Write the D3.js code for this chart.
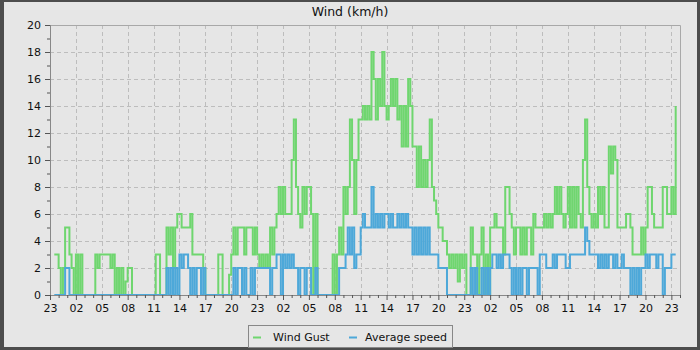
<!DOCTYPE html>
<html><head><meta charset="utf-8">
<script src="https://cdn.jsdelivr.net/npm/d3@7"></script>
<style>body{margin:0;background:#4d4d4d}svg{display:block}</style>
</head><body><svg id="c" width="700" height="350"></svg>
<script>
const title = "Wind (km/h)";
const xTickLabels = ["23","02","05","08","11","14","17","20","23","02","05","08","11","14","17","20","23","02","05","08","11","14","17","20","23"];
const yTickValues = [0,2,4,6,8,10,12,14,16,18,20];
const seriesNames = ["Wind Gust","Average speed"];
const seriesColors = ["#6fd66f","#4da8d9"];
const samplesPerHour = 4;
// wind gust, 15-minute samples starting at 23:00
const gust = [
null,null,3,3, 2,0,2,5, 5,3,2,0, 3,0,3,0, 0,0,0,0, 0,3,2,3, 3,3,3,3, 2,3,0,2,
0,2,0,1, 2,2,0,0, 0,0,0,0, 0,0,0,0, 0,3,3,0, 0,0,5,3, 5,2,5,6, 6,5,5,5,
5,6,3,3, 3,3,3,2, 0,0,0,0, 0,0,3,3, 0,0,0,1.5, 3,5,3,5, 5,5,3,5, 5,5,3,5,
3,2,3,2, 3,2,5,3, 5,6,8,6, 8,6,6,6, 10,13,8,6, 5,8,6,8, 8,6,0,6, 0,0,0,0,
0,0,0,3, 0,3,5,3, 8,6,8,13, 10,6,10,13, 13,14,13,14, 13,18,16,13, 16,14,18,14, 13,14,16,14,
16,13,14,11, 14,11,16,14, 11,11,8,11, 8,10,8,10, 13,8,7,6, 5,5,4,4, 3,2,3,2, 3,1,3,2,
3,0,0,5, 3,3,0,3, 5,0,3,0, 5,5,6,5, 5,5,3,8, 8,6,5,3, 5,5,3,5, 3,5,5,3,
6,5,5,5, 5,6,5,6, 5,6,8,6, 8,6,5,6, 8,5,8,5, 8,6,5,10, 13,8,6,5, 6,5,8,6,
8,5,5,11, 9,11,10,5, 5,5,5,6, 6,5,3,3, 3,3,5,3, 5,8,8,6, 5,5,5,5, 8,8,6,6,
8,6,14
];
// average speed, 15-minute samples starting at 23:00
const avg = [
null,null,0,0, 0,0,0,2, 2,0,0,0, 0,0,0,0, 0,0,0,0, 0,0,0,0, 0,0,0,0, 0,0,0,0,
0,0,0,0, 0,0,0,0, 0,0,0,0, 0,0,0,0, 0,0,0,0, 0,0,2,0, 2,0,2,0, 3,2,3,3,
2,0,2,0, 2,2,0,2, 0,0,0,0, 0,0,0,0, 0,0,0,0, 0,2,0,2, 2,0,2,0, 0,2,0,2,
2,2,2,2, 2,2,0,2, 2,3,3,0, 3,2,3,2, 3,2,2,0, 2,2,0,2, 2,0,0,2, 0,0,0,0,
0,0,0,0, 0,0,2,2, 2,3,5,3, 5,2,3,3, 5,6,5,5, 5,8,5,6, 5,6,5,6, 6,5,6,5,
5,6,5,6, 5,6,5,5, 3,5,3,5, 3,5,3,5, 3,3,3,3, 2,2,2,2, 0,0,0,0, 0,0,0,0,
0,0,0,2, 0,2,0,0, 2,0,2,0, 2,3,3,2, 3,2,3,3, 3,2,0,2, 0,2,0,2, 2,0,2,2,
2,2,0,3, 3,3,2,2, 2,3,2,3, 3,3,3,2, 2,3,3,3, 3,3,3,3, 5,4,3,3, 3,3,2,3,
2,3,2,3, 3,2,3,2, 2,3,2,2, 2,0,2,0, 2,0,2,2, 3,2,3,3, 3,2,3,3, 0,2,2,2,
3,3,3
];

const svg = d3.select("#c");
const W = 700, H = 350;
const bg = "#e6e6e6";
svg.append("rect").attr("x",0).attr("y",0).attr("width",W).attr("height",H).attr("fill","#4d4d4d");
svg.append("rect").attr("x",4).attr("y",2).attr("width",W-7).attr("height",H-5).attr("fill",bg);

const plot = {l:50, r:680, t:25, b:295};
const totalHours = (xTickLabels.length-1)*3 + 1;
const x = d3.scaleLinear().domain([0,totalHours]).range([plot.l, plot.r]);
const y = d3.scaleLinear().domain([0,20]).range([plot.b, plot.t]);

// grid
const grid = svg.append("g").attr("stroke","#bdbdbd").attr("stroke-width",1).attr("stroke-dasharray","4,3").attr("fill","none");
yTickValues.filter(v=>v>0 && v<20).forEach(v=>{
  grid.append("line").attr("x1",plot.l).attr("x2",plot.r).attr("y1",Math.round(y(v))+0.5).attr("y2",Math.round(y(v))+0.5);
});
xTickLabels.forEach((l,i)=>{ if(i===0) return;
  const xx = Math.round(x(i*3))+0.5;
  grid.append("line").attr("x1",xx).attr("x2",xx).attr("y1",plot.t).attr("y2",plot.b);
});
// plot frame top/right
svg.append("path").attr("d",`M${plot.l},${plot.t+0.5}H${plot.r+0.5}V${plot.b}`).attr("stroke","#a8a8a8").attr("fill","none");

// series
const toPts = arr => arr.map((v,i)=>({h:i/samplesPerHour, v}));
const line = d3.line().defined(d=>d.v!=null).x(d=>x(d.h)).y(d=>y(d.v)).curve(d3.curveStepAfter);
[gust, avg].forEach((s,k)=>{
  svg.append("path").datum(toPts(s)).attr("d",line).attr("fill","none")
    .attr("stroke",seriesColors[k]).attr("stroke-width",2).attr("stroke-linejoin","miter");
});

// axes
const fontFam = "DejaVu Sans, sans-serif";
const xAxis = d3.axisBottom(x)
  .tickValues(xTickLabels.map((l,i)=>i*3))
  .tickFormat((d,i)=>xTickLabels[i]).tickSize(5).tickPadding(4);
const gx = svg.append("g").attr("transform",`translate(0,${plot.b})`).call(xAxis);
const xMinor = d3.axisBottom(x).tickValues(d3.range(0,totalHours+1).filter(h=>h%3!==0)).tickFormat("").tickSize(3);
const gxm = svg.append("g").attr("transform",`translate(0,${plot.b})`).call(xMinor);
gxm.select(".domain").remove();
const yAxis = d3.axisLeft(y).tickValues(yTickValues).tickSize(5).tickPadding(4).tickFormat(d3.format("d"));
const gy = svg.append("g").attr("transform",`translate(${plot.l},0)`).call(yAxis);
const yMinor = d3.axisLeft(y).tickValues(d3.range(1,20,2)).tickFormat("").tickSize(3);
const gym = svg.append("g").attr("transform",`translate(${plot.l},0)`).call(yMinor);
gym.select(".domain").remove();
[gx,gxm,gy,gym].forEach(g=>{
  g.selectAll("path,line").attr("stroke","#555");
  g.selectAll("text").attr("font-family",fontFam).attr("font-size",11).attr("fill","#111");
});
gx.select(".domain").attr("d",`M${plot.l},0.5H${plot.r}`).attr("stroke","#888");
gy.select(".domain").attr("d",`M0.5,${plot.b}V${plot.t}`).attr("stroke","#888");

// title
svg.append("text").attr("x",350).attr("y",16).attr("text-anchor","middle")
  .attr("font-family",fontFam).attr("font-size",12.5).attr("fill","#111").text(title);

// legend
const lg = svg.append("g");
lg.append("rect").attr("x",248.5).attr("y",325.5).attr("width",204).attr("height",22)
  .attr("fill",bg).attr("stroke","#888");
const items = [{x:253, tx:273},{x:349, tx:365}];
items.forEach((it,k)=>{
  lg.append("line").attr("x1",it.x).attr("x2",it.x+8).attr("y1",337.5).attr("y2",337.5)
    .attr("stroke",seriesColors[k]).attr("stroke-width",2);
  lg.append("text").attr("x",it.tx).attr("y",341).attr("font-family",fontFam).attr("font-size",11)
    .attr("fill","#111").text(seriesNames[k]);
});
</script></body></html>
